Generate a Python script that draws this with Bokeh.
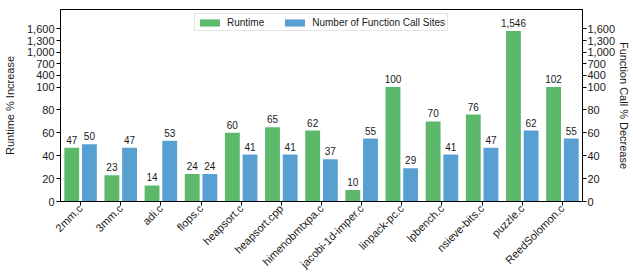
import math
from bokeh.plotting import figure
from bokeh.models import (ColumnDataSource, FactorRange, Range1d, LinearAxis,
                          FixedTicker, Legend, LegendItem)
from bokeh.transform import dodge
from bokeh.core.properties import value
from bokeh.embed import file_html
from bokeh.resources import INLINE

# ---------------- data ----------------
benchmarks = ["2mm.c", "3mm.c", "adi.c", "flops.c", "heapsort.c", "heapsort.cpp",
              "himenobmtxpa.c", "jacobi-1d-imper.c", "linpack-pc.c", "lpbench.c",
              "nsieve-bits.c", "puzzle.c", "ReedSolomon.c"]
runtime_increase = [47, 23, 14, 24, 60, 65, 62, 10, 100, 70, 76, 1546, 102]
call_site_decrease = [50, 47, 53, 24, 41, 41, 37, 55, 29, 41, 47, 62, 55]
y_tick_values = [0, 20, 40, 60, 80, 100, 400, 700, 1000, 1300, 1600]

# broken (piecewise-linear) value axis: linear up to 100, compressed above
BREAK = 100
UPPER_RATIO = 0.0339


def squash(v):
    return v if v <= BREAK else BREAK + (v - BREAK) * UPPER_RATIO


GREEN = "#5cb96b"
BLUE = "#58a0d2"
FONT = "Liberation Sans"
TXT = "#1a1a1a"

src = ColumnDataSource(dict(
    x=benchmarks,
    rt=[squash(v) for v in runtime_increase],
    cs=[squash(v) for v in call_site_decrease],
    rt_label=[f"{v:,}" for v in runtime_increase],
    cs_label=[f"{v:,}" for v in call_site_decrease],
))

p = figure(x_range=FactorRange(*benchmarks, range_padding=0),
           y_range=Range1d(0, 167.8),
           width=633, height=277, output_backend="svg", toolbar_location=None,
           min_border_left=57, min_border_right=0, min_border_top=9,
           min_border_bottom=75)

r1 = p.vbar(x=dodge("x", -0.22, range=p.x_range), top="rt", width=0.37,
            source=src, fill_color=GREEN, line_color=None)
r2 = p.vbar(x=dodge("x", 0.22, range=p.x_range), top="cs", width=0.37,
            source=src, fill_color=BLUE, line_color=None)

for col, lab, off in (("rt", "rt_label", -0.22), ("cs", "cs_label", 0.22)):
    p.text(x=dodge("x", off, range=p.x_range), y=col, text=lab, source=src,
           text_align="center", text_baseline="bottom", y_offset=-4,
           text_font=value(FONT), text_font_size="10px", text_color=TXT)

ticks = [squash(v) for v in y_tick_values]
overrides = {squash(v): f"{v:,}" for v in y_tick_values}

p.grid.visible = False
p.outline_line_color = "black"
p.outline_line_alpha = 1
p.outline_line_width = 1

# x axis
xa = p.xaxis[0]
xa.major_label_orientation = math.pi / 4
xa.major_label_text_font = FONT
xa.major_label_text_font_size = "11px"
xa.major_label_text_color = TXT
xa.major_tick_out = 4
xa.major_tick_in = 0
xa.major_label_standoff = 1
xa.axis_line_color = "black"
xa.major_tick_line_color = "black"


def style_y(ax, label, label_standoff):
    ax.ticker = FixedTicker(ticks=ticks)
    ax.major_label_overrides = overrides
    ax.axis_label = label
    ax.axis_label_text_font = FONT
    ax.axis_label_text_font_size = "11px"
    ax.axis_label_text_font_style = "normal"
    ax.axis_label_text_color = TXT
    ax.axis_label_standoff = label_standoff
    ax.major_label_text_font = FONT
    ax.major_label_text_font_size = "11px"
    ax.major_label_text_color = TXT
    ax.major_label_standoff = 2
    ax.major_tick_out = 4
    ax.major_tick_in = 0
    ax.minor_tick_out = 0
    ax.minor_tick_in = 0
    ax.axis_line_color = "black"
    ax.major_tick_line_color = "black"


style_y(p.yaxis[0], "Runtime % Increase", 8)
right_axis = LinearAxis()
style_y(right_axis, "Function Call % Decrease", 0)
right_axis.major_label_standoff = 1
p.add_layout(right_axis, "right")

legend = Legend(items=[LegendItem(label="Runtime", renderers=[r1]),
                       LegendItem(label="Number of Function Call Sites", renderers=[r2])],
                location="top_center", orientation="horizontal",
                label_text_font=FONT, label_text_font_size="10px",
                label_text_color=TXT,
                glyph_width=25, glyph_height=9, label_height=12,
                label_standoff=5, spacing=18, padding=2, margin=4,
                border_line_color="#cccccc", border_line_width=1,
                background_fill_color="white", background_fill_alpha=1)
p.add_layout(legend)

open("out.html", "w").write(file_html(p, INLINE))
